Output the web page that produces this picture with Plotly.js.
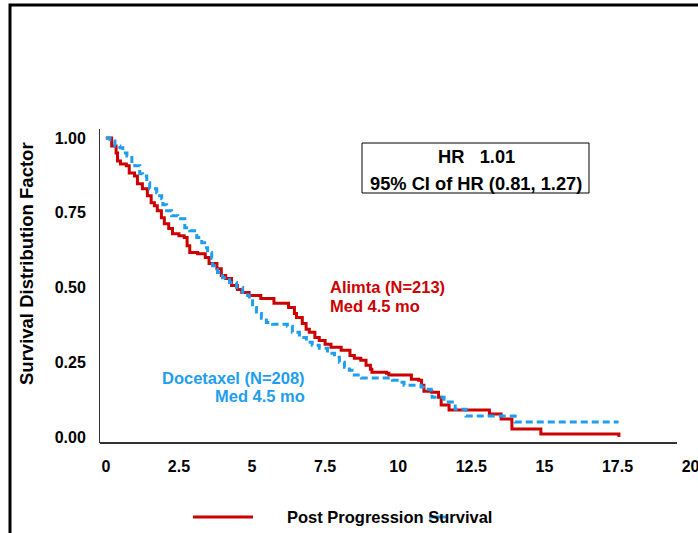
<!DOCTYPE html>
<html>
<head>
<meta charset="utf-8">
<script src="https://cdn.plot.ly/plotly-3.0.1.min.js"></script>
<style>html,body{margin:0;padding:0;background:#fff;}#chart{width:698px;height:533px;}</style>
</head>
<body>
<div id="chart"></div>
<script>
// Alimta (red, solid) step curve: time of drop (months) and survival after
var alimtaTime = [0, 0.2, 0.35, 0.4, 0.5, 0.7, 0.8, 0.98, 1.08, 1.25, 1.42, 1.55, 1.66, 1.76, 1.9, 2.0, 2.15, 2.28, 2.5, 2.68, 2.78, 2.87, 3.14, 3.4, 3.53, 3.8, 3.95, 4.1, 4.3, 4.5, 4.65, 4.9, 5.3, 5.75, 6.25, 6.45, 6.52, 6.72, 6.85, 6.96, 7.15, 7.3, 7.5, 7.7, 8.05, 8.35, 8.5, 8.72, 8.9, 9.05, 9.1, 9.6, 9.68, 10.45, 10.7, 10.8, 10.88, 11.15, 11.38, 11.47, 11.74, 13.12, 13.52, 13.89, 14.88, 17.55];
var alimtaSurv = [1.0, 0.973, 0.95, 0.923, 0.913, 0.907, 0.883, 0.873, 0.847, 0.83, 0.807, 0.783, 0.773, 0.757, 0.733, 0.713, 0.697, 0.68, 0.673, 0.667, 0.64, 0.617, 0.613, 0.60, 0.58, 0.563, 0.54, 0.53, 0.507, 0.493, 0.483, 0.473, 0.463, 0.447, 0.433, 0.413, 0.40, 0.38, 0.36, 0.35, 0.333, 0.323, 0.31, 0.30, 0.29, 0.273, 0.263, 0.257, 0.24, 0.227, 0.217, 0.213, 0.207, 0.193, 0.19, 0.173, 0.153, 0.15, 0.133, 0.107, 0.09, 0.077, 0.06, 0.027, 0.01, 0.0];

// Docetaxel (blue, dashed)
var docTime = [0, 0.14, 0.31, 0.48, 0.58, 0.72, 0.89, 0.99, 1.16, 1.26, 1.40, 1.50, 1.74, 1.84, 1.91, 1.95, 2.08, 2.25, 2.46, 2.70, 2.87, 3.11, 3.28, 3.38, 3.48, 3.62, 3.65, 3.82, 3.99, 4.23, 4.47, 4.68, 4.85, 4.91, 5.02, 5.15, 5.32, 5.49, 5.70, 6.21, 6.38, 6.62, 6.86, 7.06, 7.30, 7.58, 7.82, 7.99, 8.16, 8.33, 8.50, 8.74, 9.80, 10.03, 10.2, 10.78, 10.96, 11.13, 11.16, 11.57, 11.95, 12.32, 14.0, 17.54];
var docSurv = [1.0, 0.99, 0.973, 0.967, 0.95, 0.94, 0.913, 0.907, 0.88, 0.873, 0.85, 0.83, 0.817, 0.807, 0.797, 0.777, 0.757, 0.74, 0.73, 0.70, 0.69, 0.667, 0.65, 0.633, 0.617, 0.597, 0.573, 0.55, 0.533, 0.517, 0.50, 0.483, 0.473, 0.463, 0.433, 0.413, 0.397, 0.383, 0.377, 0.37, 0.35, 0.333, 0.317, 0.307, 0.297, 0.28, 0.267, 0.25, 0.233, 0.223, 0.207, 0.197, 0.19, 0.183, 0.173, 0.167, 0.16, 0.15, 0.133, 0.117, 0.093, 0.07, 0.05, 0.05];

var xTickVals = [0, 2.5, 5, 7.5, 10, 12.5, 15, 17.5, 20];
var xTickText = ["0", "2.5", "5", "7.5", "10", "12.5", "15", "17.5", "20"];
var yTickVals = [0, 0.25, 0.5, 0.75, 1.0];
var yTickText = ["0.00", "0.25", "0.50", "0.75", "1.00"];

var hrLines = ["HR   1.01", "95% CI of HR (0.81, 1.27)"];
var alimtaLabel = ["Alimta (N=213)", "Med 4.5 mo"];
var docLabel = ["Docetaxel (N=208)", "Med 4.5 mo"];
var legendText = "Post Progression Survival";

var RED = "#CC0000", BLUE = "#1E9EEE";
var FONT = "Liberation Sans, Arial, sans-serif";

// pixel -> paper helpers (plot area: left 100, right 692, top 129, bottom 443)
var L = 100, R = 692, T = 129, B = 443;
function px(x) { return (x - L) / (R - L); }
function py(y) { return (B - y) / (B - T); }

var traces = [
  {x: alimtaTime, y: alimtaSurv, type: "scatter", mode: "lines", line: {shape: "hv", color: RED, width: 3}, name: "Alimta", showlegend: false, hoverinfo: "skip"},
  {x: docTime, y: docSurv, type: "scatter", mode: "lines", line: {shape: "hv", color: BLUE, width: 3, dash: "7px,4px"}, name: "Docetaxel", showlegend: false, hoverinfo: "skip"}
];

var hrFont = {family: FONT, size: 18.3, color: "#000", weight: "bold"};
var redFont = {family: FONT, size: 16.5, color: RED, weight: "bold"};
var blueFont = {family: FONT, size: 16.5, color: BLUE, weight: "bold"};
var legFont = {family: FONT, size: 16.5, color: "#000", weight: "bold"};
var tickFont = {family: FONT, size: 16, color: "#000", weight: "bold"};

var layout = {
  width: 698, height: 533,
  margin: {l: L, r: 698 - R, t: T, b: 533 - B, pad: 0},
  paper_bgcolor: "#fff", plot_bgcolor: "#fff",
  showlegend: false,
  xaxis: {range: [-0.2, 20.05], tickvals: xTickVals, ticktext: xTickText, showgrid: false, zeroline: false, showline: false, ticks: "", ticklabelstandoff: 12, ticklabeloverflow: "allow", tickfont: tickFont, fixedrange: true},
  yaxis: {range: [-0.02, 1.03], tickvals: yTickVals, ticktext: yTickText, showgrid: false, zeroline: false, showline: true, linecolor: "#333", linewidth: 1, ticks: "", ticklabelstandoff: 10, tickfont: tickFont, fixedrange: true},
  shapes: [
    // outer frame
    {type: "rect", xref: "paper", yref: "paper", x0: px(10), x1: px(720), y0: py(5), y1: py(560), line: {color: "#000", width: 3}},
    // x axis line
    {type: "line", xref: "paper", yref: "paper", x0: px(100), x1: px(677), y0: py(443), y1: py(443), line: {color: "#333", width: 2}},
    // HR box
    {type: "rect", xref: "paper", yref: "paper", x0: px(362), x1: px(589), y0: py(143), y1: py(193), line: {color: "#000", width: 1}},
    // legend line
    {type: "line", xref: "paper", yref: "paper", x0: px(193), x1: px(253), y0: py(517), y1: py(517), line: {color: RED, width: 3}},
    {type: "line", xref: "paper", yref: "paper", x0: px(429), x1: px(446), y0: py(517), y1: py(517), line: {color: BLUE, width: 3}}
  ],
  annotations: [
    {xref: "paper", yref: "paper", x: px(26), y: py(264), text: "Survival Distribution Factor", textangle: -90, showarrow: false, font: {family: FONT, size: 18.5, color: "#000", weight: "bold"}, xanchor: "center", yanchor: "middle"},
    {xref: "paper", yref: "paper", x: px(476), y: py(156), text: hrLines[0], showarrow: false, font: hrFont, xanchor: "center", yanchor: "middle"},
    {xref: "paper", yref: "paper", x: px(476), y: py(183), text: hrLines[1], showarrow: false, font: hrFont, xanchor: "center", yanchor: "middle"},
    {xref: "paper", yref: "paper", x: px(328), y: py(287), text: alimtaLabel[0], showarrow: false, font: redFont, xanchor: "left", yanchor: "middle"},
    {xref: "paper", yref: "paper", x: px(328), y: py(306), text: alimtaLabel[1], showarrow: false, font: redFont, xanchor: "left", yanchor: "middle"},
    {xref: "paper", yref: "paper", x: px(307), y: py(378), text: docLabel[0], showarrow: false, font: blueFont, xanchor: "right", yanchor: "middle"},
    {xref: "paper", yref: "paper", x: px(307), y: py(396), text: docLabel[1], showarrow: false, font: blueFont, xanchor: "right", yanchor: "middle"},
    {xref: "paper", yref: "paper", x: px(285), y: py(517), text: legendText, showarrow: false, font: legFont, xanchor: "left", yanchor: "middle"}
  ]
};

Plotly.newPlot("chart", traces, layout, {displayModeBar: false, staticPlot: true});
</script>
</body>
</html>
